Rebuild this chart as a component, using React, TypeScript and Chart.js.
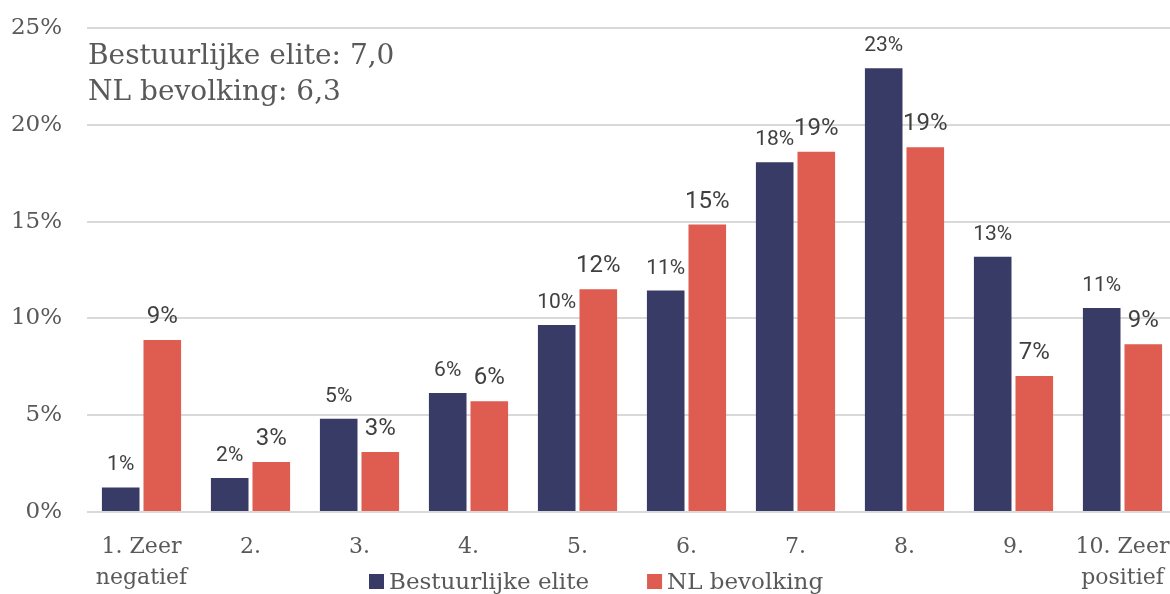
import React, { useEffect, useRef } from "react";
import { Chart, registerables } from "chart.js";

Chart.register(...registerables);

const categories: (string | string[])[] = [
  ["1. Zeer", "negatief"],
  "2.",
  "3.",
  "4.",
  "5.",
  "6.",
  "7.",
  "8.",
  "9.",
  ["10. Zeer", "positief"],
];
const eliteValues = [1.27, 1.76, 4.82, 6.15, 9.66, 11.44, 18.06, 22.92, 13.18, 10.54];
const publicValues = [8.88, 2.58, 3.1, 5.72, 11.51, 14.85, 18.61, 18.84, 7.02, 8.66];
const seriesNames = ["Bestuurlijke elite", "NL bevolking"];
const seriesColors = ["#383b66", "#df5c51"];
const annotationLines = ["Bestuurlijke elite: 7,0", "NL bevolking: 6,3"];
const yTicks = [0, 5, 10, 15, 20, 25];

const SERIF = "'DejaVu Serif', serif";
const SANS = "Roboto, 'Noto Sans', sans-serif";
const TEXT_GRAY = "#595959";

const W = 1177;
const H = 600;

const labelPlugin = {
  id: "valueLabels",
  afterDatasetsDraw(chart: any) {
    const ctx = chart.ctx;
    ctx.save();
    ctx.fillStyle = "#404040";
    ctx.textAlign = "center";
    ctx.textBaseline = "alphabetic";
    chart.data.datasets.forEach((ds: any, i: number) => {
      const meta = chart.getDatasetMeta(i);
      ctx.font = (i === 0 ? "21px " : "24px ") + SANS;
      meta.data.forEach((bar: any, j: number) => {
        const v = ds.data[j];
        ctx.fillText(Math.round(v) + "%", bar.x, bar.y - 17);
      });
    });
    ctx.restore();
  },
  afterDraw(chart: any) {
    const ctx = chart.ctx;
    const area = chart.chartArea;
    ctx.save();
    // annotation
    ctx.fillStyle = TEXT_GRAY;
    ctx.font = "28px " + SERIF;
    ctx.textAlign = "left";
    ctx.textBaseline = "alphabetic";
    annotationLines.forEach((t, k) => {
      ctx.fillText(t, area.left + 1, 64 + k * 36);
    });
    // legend
    ctx.font = "23px " + SERIF;
    const gap = 5;
    const box = 15;
    const itemGap = 58;
    let x = 369;
    const baseline = 589;
    seriesNames.forEach((n, k) => {
      ctx.fillStyle = seriesColors[k];
      ctx.fillRect(x, baseline - box, box, box);
      ctx.fillStyle = TEXT_GRAY;
      ctx.fillText(n, x + box + gap, baseline);
      x += box + gap + ctx.measureText(n).width + itemGap;
    });
    ctx.restore();
  },
};

export default function App() {
  const ref = useRef<HTMLCanvasElement | null>(null);
  useEffect(() => {
    if (!ref.current) return;
    const chart = new Chart(ref.current, {
      type: "bar",
      data: {
        labels: categories,
        datasets: [
          {
            label: seriesNames[0],
            data: eliteValues,
            backgroundColor: seriesColors[0],
            categoryPercentage: 0.763,
            barPercentage: 0.904,
          },
          {
            label: seriesNames[1],
            data: publicValues,
            backgroundColor: seriesColors[1],
            categoryPercentage: 0.763,
            barPercentage: 0.904,
          },
        ],
      },
      options: {
        animation: false,
        responsive: false,
        maintainAspectRatio: false,
        layout: { padding: { top: 28, right: 0, bottom: 0, left: 0 } },
        plugins: {
          legend: { display: false },
          tooltip: { enabled: false },
        },
        scales: {
          x: {
            grid: { display: false, drawTicks: false },
            border: { display: false },
            ticks: {
              color: TEXT_GRAY,
              font: { family: SERIF, size: 22, lineHeight: 1.4 },
              padding: 20,
              maxRotation: 0,
              autoSkip: false,
            },
            afterFit(scale: any) {
              scale.height = 88;
              scale.paddingLeft = 0;
              scale.paddingRight = 0;
            },
          },
          y: {
            min: 0,
            max: 25,
            afterBuildTicks(scale: any) {
              scale.ticks = yTicks.map((v) => ({ value: v }));
            },
            grid: { color: "#d9d9d9", lineWidth: 2, drawTicks: false },
            border: { display: false },
            ticks: {
              color: TEXT_GRAY,
              font: { family: SERIF, size: 23 },
              padding: 25,
              callback: (v: any) => v + "%",
            },
            afterFit(scale: any) {
              scale.width = 87;
              scale.paddingTop = 0;
              scale.paddingBottom = 0;
            },
          },
        },
      },
      plugins: [labelPlugin],
    });
    return () => chart.destroy();
  }, []);
  return (
    <div
      style={{
        position: "fixed",
        left: 0,
        top: 0,
        width: 1170,
        height: 594,
        overflow: "hidden",
        background: "#fff",
      }}
    >
      <canvas ref={ref} width={W} height={H} style={{ width: W, height: H, display: "block" }} />
    </div>
  );
}
